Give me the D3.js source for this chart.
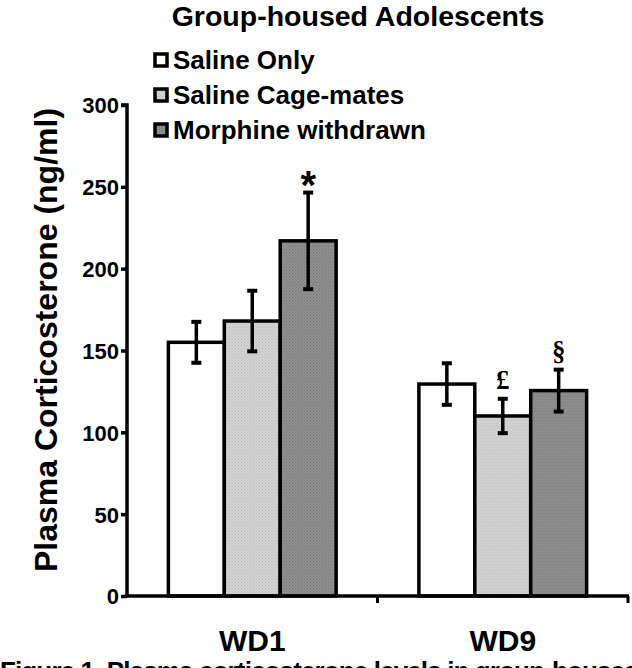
<!DOCTYPE html>
<html><head><meta charset="utf-8">
<script src="https://cdn.jsdelivr.net/npm/d3@7"></script>
<style>
html,body{margin:0;padding:0;background:#fff;overflow:hidden}
text{font-family:"Liberation Sans",Arial,sans-serif}
</style></head>
<body><svg id="c" width="632" height="668"></svg>
<script>
const categories = ["WD1", "WD9"];
const seriesNames = ["Saline Only", "Saline Cage-mates", "Morphine withdrawn"];
const means = [[155, 168, 217], [129.5, 110, 125.5]];
const sems = [[12.5, 18.5, 29.5], [12.7, 10.5, 12.8]];
const marks = [["", "", "*"], ["", "£", "§"]];
const yTicks = [0, 50, 100, 150, 200, 250, 300];

const svg = d3.select("#c");
const x0 = d3.scaleBand().domain(categories).range([127, 628]).paddingInner(0).paddingOuter(0);
const x1 = d3.scaleBand().domain(d3.range(3)).range([0, x0.bandwidth()]).paddingInner(0).paddingOuter(0.74);
const y = d3.scaleLinear().domain([0, 300]).range([596, 105]);

// stipple patterns
const defs = svg.append("defs");
[["p1", "#d4d4d4", "#b8b8b8"], ["p2", "#909090", "#767676"]].forEach(([id, bg, dot]) => {
  const p = defs.append("pattern").attr("id", id).attr("width", 3).attr("height", 3).attr("patternUnits", "userSpaceOnUse");
  p.append("rect").attr("width", 3).attr("height", 3).attr("fill", bg);
  p.append("rect").attr("x", 0).attr("y", 0).attr("width", 1).attr("height", 1).attr("fill", dot);
  p.append("rect").attr("x", 1.5).attr("y", 1.5).attr("width", 1).attr("height", 1).attr("fill", dot);
});
const patFill = ["#ffffff", "url(#p1)", "url(#p2)"];

// bars
categories.forEach((c, ci) => {
  const g = svg.append("g").attr("transform", `translate(${x0(c)},0)`);
  means[ci].forEach((v, si) => {
    const bx = x1(si), bw = x1.bandwidth();
    g.append("rect").attr("x", bx).attr("y", y(v)).attr("width", bw).attr("height", y(0) - y(v))
      .attr("fill", patFill[si]).attr("stroke", "#000").attr("stroke-width", 3.5);
  });
  means[ci].forEach((v, si) => {
    const cx = x1(si) + x1.bandwidth() / 2;
    const hi = v + sems[ci][si], lo = v - sems[ci][si];
    g.append("line").attr("x1", cx).attr("x2", cx).attr("y1", y(hi)).attr("y2", y(lo)).attr("stroke", "#000").attr("stroke-width", 3.5);
    [hi, lo].forEach(e => g.append("line").attr("x1", cx - 5).attr("x2", cx + 5).attr("y1", y(e)).attr("y2", y(e)).attr("stroke", "#000").attr("stroke-width", 4));
    const m = marks[ci][si];
    if (m) {
      const isStar = m === "*";
      g.append("text").attr("x", cx).attr("y", y(hi) - (isStar ? -6 : 10))
        .attr("text-anchor", "middle")
        .style("font-family", isStar ? '"Liberation Sans",Arial,sans-serif' : '"Liberation Serif","Times New Roman",serif')
        .style("font-size", isStar ? "40px" : "27px").style("font-weight", "bold").text(m);
    }
  });
});

// y axis
const yAxis = d3.axisLeft(y).tickValues(yTicks).tickSize(6).tickPadding(2);
const ya = svg.append("g").attr("transform", "translate(127,0)").call(yAxis);
ya.select(".domain").attr("stroke-width", 3.5).attr("d", `M-6,${y(300)}H0V${y(0)}`);
ya.selectAll(".tick line").attr("stroke-width", 3.5);
ya.selectAll(".tick text").style("font-size", "22px").style("font-weight", "bold").attr("fill", "#000").attr("dy", "0.36em");

// x axis
const xa = svg.append("g").attr("transform", `translate(0,${y(0)})`);
xa.append("line").attr("x1", 125).attr("x2", 629).attr("y1", 0).attr("y2", 0).attr("stroke", "#000").attr("stroke-width", 3.5);
categories.forEach(c => {
  const xr = x0(c) + x0.bandwidth();
  xa.append("line").attr("x1", xr).attr("x2", xr).attr("y1", 0).attr("y2", 7).attr("stroke", "#000").attr("stroke-width", 3);
  xa.append("text").attr("x", x0(c) + x0.bandwidth() / 2).attr("y", 55).attr("text-anchor", "middle")
    .style("font-size", "30px").style("font-weight", "bold").text(c);
});

// y label
svg.append("text").attr("transform", "translate(57,340) rotate(-90)").attr("text-anchor", "middle")
  .style("font-size", "32px").style("font-weight", "bold").text("Plasma Corticosterone (ng/ml)");

// title
svg.append("text").attr("x", 358).attr("y", 26).attr("text-anchor", "middle")
  .style("font-size", "28.5px").style("font-weight", "bold").text("Group-housed Adolescents");

// legend
const legY = [60, 95, 130];
seriesNames.forEach((s, i) => {
  svg.append("rect").attr("x", 155).attr("y", legY[i] - 6).attr("width", 12).attr("height", 12)
    .attr("fill", patFill[i]).attr("stroke", "#000").attr("stroke-width", 3.5);
  svg.append("text").attr("x", 173).attr("y", legY[i] + 9).style("font-size", "26px").style("font-weight", "bold").text(s);
});

// cut caption (cut off at the bottom edge, as in the reference)
svg.append("text").attr("x", 0).attr("y", 680).style("font-size", "26px").style("font-weight", "bold")
  .attr("textLength", 640).attr("lengthAdjust", "spacing")
  .text("Figure 1.  Plasma corticosterone levels in group-housed");
</script></body></html>
